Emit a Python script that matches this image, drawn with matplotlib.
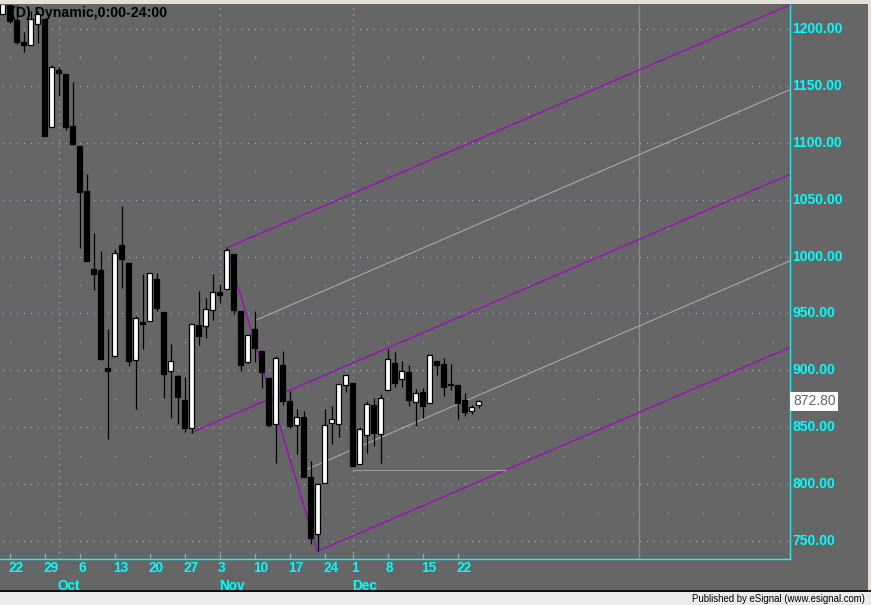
import matplotlib
matplotlib.use("Agg")
import matplotlib.pyplot as plt
import matplotlib.transforms as mtransforms
from matplotlib.patches import Rectangle

# ---------------- data (S&P 500 daily) ----------------
opens = [1213.11, 1255.37, 1207.61, 1188.79, 1185.62, 1204.47, 1209.07, 1113.78,
         1164.17, 1160.64, 1115.16, 1097.56, 1057.60, 988.91, 988.42, 902.31,
         912.75, 1009.97, 994.60, 909.53, 942.29, 943.51, 980.40, 951.67,
         899.08, 895.22, 874.28, 848.92, 939.51, 939.38, 953.11,
         968.67, 971.31, 1001.84, 952.40, 907.44, 936.75, 917.15, 893.39,
         853.13, 904.36, 873.23, 852.34, 859.03, 805.87, 755.84, 801.20,
         853.40, 852.90, 886.89,
         888.61, 817.94, 843.60, 869.75, 844.43, 882.71, 906.48, 892.17,
         898.35, 871.79, 881.07, 871.53, 908.16, 905.98, 886.96, 887.20,
         874.31, 863.87, 869.51]
highs = [1265.12, 1255.37, 1221.15, 1197.41, 1215.77, 1215.77, 1209.07, 1168.03,
         1167.03, 1160.64, 1153.82, 1097.56, 1072.91, 1021.06, 1005.25, 936.36,
         1006.93, 1044.31, 994.60, 947.71, 984.64, 985.40, 985.44, 951.67,
         922.83, 896.30, 893.78, 940.51, 969.97, 963.23, 984.38,
         975.57, 1007.51, 1001.84, 952.40, 931.46, 951.95, 917.15, 893.39,
         913.01, 916.88, 882.29, 865.90, 864.57, 820.52, 801.20, 865.60,
         868.94, 887.68, 896.25,
         888.61, 850.54, 873.12, 875.60, 879.42, 918.57, 916.26, 908.27,
         904.63, 883.24, 884.63, 914.66, 908.16, 911.02, 905.47, 887.37,
         880.44, 869.79, 873.74]
lows = [1213.11, 1205.61, 1187.06, 1179.79, 1185.62, 1187.54, 1106.42, 1113.78,
        1140.77, 1111.43, 1098.14, 1007.97, 996.23, 970.97, 909.19, 839.80,
        912.75, 972.07, 903.99, 865.83, 918.74, 943.51, 952.47, 875.81,
        858.44, 852.85, 845.83, 845.27, 922.26, 928.50, 944.59,
        958.82, 971.31, 949.86, 899.73, 906.90, 907.47, 884.90, 850.48,
        818.69, 869.88, 848.98, 826.84, 806.18, 747.78, 741.02, 801.20,
        834.99, 841.37, 881.21,
        815.69, 817.94, 827.60, 833.60, 818.41, 882.71, 885.38, 885.45,
        868.73, 851.35, 857.72, 871.53, 895.93, 877.44, 883.02, 857.09,
        860.10, 861.44, 866.52]
closes = [1255.08, 1207.09, 1188.22, 1185.87, 1209.18, 1213.27, 1106.39, 1166.36,
          1161.06, 1114.28, 1099.23, 1056.89, 996.23, 984.94, 909.92, 899.22,
          1003.35, 998.01, 907.84, 946.43, 940.55, 985.40, 955.05, 896.78,
          908.11, 876.77, 848.92, 940.51, 930.09, 954.09, 968.75,
          966.30, 1005.75, 952.77, 904.88, 930.99, 919.21, 898.95, 852.30,
          911.29, 873.29, 850.75, 859.12, 806.58, 752.44, 800.03, 851.81,
          857.39, 887.68, 896.24,
          816.21, 848.81, 870.74, 845.22, 876.07, 909.70, 888.67, 899.24,
          873.59, 879.73, 868.57, 913.18, 904.42, 885.28, 887.88, 871.63,
          863.16, 868.15, 872.80]

week_idx = [1, 6, 11, 16, 21, 26, 31, 36, 41, 46, 50, 55, 60, 65]
week_labels = ["22", "29", "6", "13", "20", "27", "3", "10", "17", "24", "1", "8", "15", "22"]
month_idx = [8, 31, 50]
month_labels = ["Oct", "Nov", "Dec"]
price_ticks = [750, 800, 850, 900, 950, 1000, 1050, 1100, 1150, 1200]
last_price = 872.80

# pitchfork pivots (bar index, price)
pivot_a = (27, 845.27)
pivot_b = (32, 1007.51)
pivot_c = (45, 741.02)
handle_point = (38.5, 875.8)       # point the median line passes through
warn_start = [36.2, 42.5]          # where the two gray warning lines begin
hline_level = 812.5                # horizontal gray level
hline_start = 50
marker_line_idx = 90.93            # solid vertical gray line

# ---------------- layout ----------------
W, H = 871, 605
BG = "#666666"
CYAN = "#00FFFF"
GRID = "#8AA8CC"
PURPLE = "#9A10B4"
LGRAY = "#A8A8A8"

fig = plt.figure(figsize=(W / 100, H / 100), dpi=100, facecolor=BG)

def prect(x0, y0, x1, y1):
    return [x0 / W, 1 - y1 / H, (x1 - x0) / W, (y1 - y0) / H]

ax = fig.add_axes(prect(0, 5, 790, 559))
ax.set_facecolor(BG)
xmin, xmax = -2.5 / 7, 787.5 / 7
ax.set_xlim(xmin, xmax)
ax.set_ylim(734.2, 1221.1)
for s in ["left", "top"]:
    ax.spines[s].set_visible(False)
for s in ["right", "bottom"]:
    ax.spines[s].set_color(CYAN)
    ax.spines[s].set_linewidth(1.0)
ax.set_xticks([])
ax.set_yticks([])

n = len(closes)
fut_max = int(xmax)

# grid: major rows dotted at every bar position
all_idx = list(range(0, fut_max + 1))
for p in price_ticks:
    ax.plot(all_idx, [p] * len(all_idx), ls="none", marker="s", ms=0.9,
            mec="none", mfc=GRID, zorder=1)
# minor rows: dots at weekly positions
wk = week_idx + list(range(70, fut_max + 1, 5))
for p in [q + 25 for q in price_ticks[:-1]] + [1225 - 50]:
    ax.plot(wk, [p] * len(wk), ls="none", marker="s", ms=0.9,
            mec="none", mfc=GRID, zorder=1)
# month vertical dotted lines
for m in month_idx:
    ax.axvline(m, color=GRID, lw=0.9, ls=(0, (1, 4)), zorder=1)
# weekly small ticks
for w in week_idx:
    ax.plot([w, w], [734.2, 738.5], color=GRID, lw=0.9, zorder=1)
# solid vertical gray marker line
ax.axvline(marker_line_idx, color="#8C8C8C", lw=0.9, zorder=1)

# ---------------- pitchfork ----------------
slope = (handle_point[1] - pivot_a[1]) / (handle_point[0] - pivot_a[0])

def line_from(pt, x0, x1):
    return [x0, x1], [pt[1] + slope * (x0 - pt[0]), pt[1] + slope * (x1 - pt[0])]

for pt in (pivot_a, pivot_b, pivot_c):
    xs, ys = line_from(pt, pt[0], xmax)
    ax.plot(xs, ys, color=PURPLE, lw=1.0, zorder=2)
ax.plot([pivot_b[0], pivot_c[0]], [pivot_b[1], pivot_c[1]], color=PURPLE, lw=1.0, zorder=2)

mid_up = (pivot_a[0], (pivot_a[1] + pivot_b[1] + slope * (pivot_a[0] - pivot_b[0])) / 2)
mid_dn = (pivot_a[0], (pivot_a[1] + pivot_c[1] + slope * (pivot_a[0] - pivot_c[0])) / 2)
for pt, x0 in ((mid_up, warn_start[0]), (mid_dn, warn_start[1])):
    xs, ys = line_from(pt, x0, xmax)
    ax.plot(xs, ys, color=LGRAY, lw=0.8, zorder=2)

x_hit = pivot_c[0] + (hline_level - pivot_c[1]) / slope
ax.plot([hline_start, x_hit], [hline_level, hline_level], color="#9A9A9A", lw=0.8, zorder=2)

# ---------------- candles ----------------
idx = list(range(n))
ax.vlines(idx, lows, highs, color="black", lw=0.9, zorder=3)
bw = 0.68
for i in idx:
    o, c = opens[i], closes[i]
    lo, hi = min(o, c), max(o, c)
    if hi - lo < 0.9:
        hi = lo + 0.9
    up = c >= o
    ax.add_patch(Rectangle((i - bw / 2, lo), bw, hi - lo,
                           facecolor="white" if up else "black",
                           edgecolor="black", lw=0.9, zorder=4))

# ---------------- texts ----------------
ax.text(11 / 790, 1 - 8.5 / 554, "(D) Dynamic,0:00-24:00",
        transform=ax.transAxes, ha="left", va="center", fontsize=10.2,
        fontweight="bold", family="Liberation Sans", color="black",
        zorder=2.5, clip_on=False)

ytrans = mtransforms.blended_transform_factory(ax.transAxes, ax.transData)
for p in price_ticks:
    ax.text(1 + 2 / 790, p, f"{p:.2f}", transform=ytrans, ha="left", va="center",
            fontsize=10, fontweight="bold", family="Liberation Sans",
            color=CYAN, clip_on=False)
ax.text(1 + 3 / 790, last_price, f"{last_price:.2f}", transform=ytrans, ha="left",
        va="center", fontsize=10, family="Liberation Sans", color="#666666",
        clip_on=False,
        bbox=dict(boxstyle="square,pad=0.2", facecolor="white", edgecolor="none"))

xtrans = mtransforms.blended_transform_factory(ax.transData, ax.transAxes)
for w, lab in zip(week_idx, week_labels):
    ax.text(w - 0.2, -9.5 / 554, lab, transform=xtrans, ha="left", va="center",
            fontsize=9.8, fontweight="bold", family="Liberation Sans",
            color=CYAN, clip_on=False)
for m, lab in zip(month_idx, month_labels):
    ax.text(m - 0.1, -27 / 554, lab, transform=xtrans, ha="left", va="center",
            fontsize=9.8, fontweight="bold", family="Liberation Sans",
            color=CYAN, clip_on=False)

# ---------------- frame / status bar ----------------
frame = fig.add_axes([0, 0, 1, 1], zorder=-1)
frame.set_xlim(0, W)
frame.set_ylim(H, 0)
frame.axis("off")
frame.add_patch(Rectangle((0, 0), W, 4, facecolor="#E4E1D8", edgecolor="none"))
frame.add_patch(Rectangle((868, 0), 3, H, facecolor="#E4E1D8", edgecolor="none"))

bar = fig.add_axes([0, 0, 1, 1], zorder=5)
bar.set_xlim(0, W)
bar.set_ylim(H, 0)
bar.axis("off")
bar.patch.set_alpha(0)
bar.add_patch(Rectangle((0, 592), W, 13, facecolor="#EBEBEB", edgecolor="none"))
bar.plot([0, W], [591, 591], color="black", lw=1.2)
bar.text(865, 598.5, "Published by eSignal (www.esignal.com)", ha="right", va="center",
         fontsize=6.9, family="Liberation Sans", color="black")

fig.savefig("out.png", dpi=100, facecolor=BG)
